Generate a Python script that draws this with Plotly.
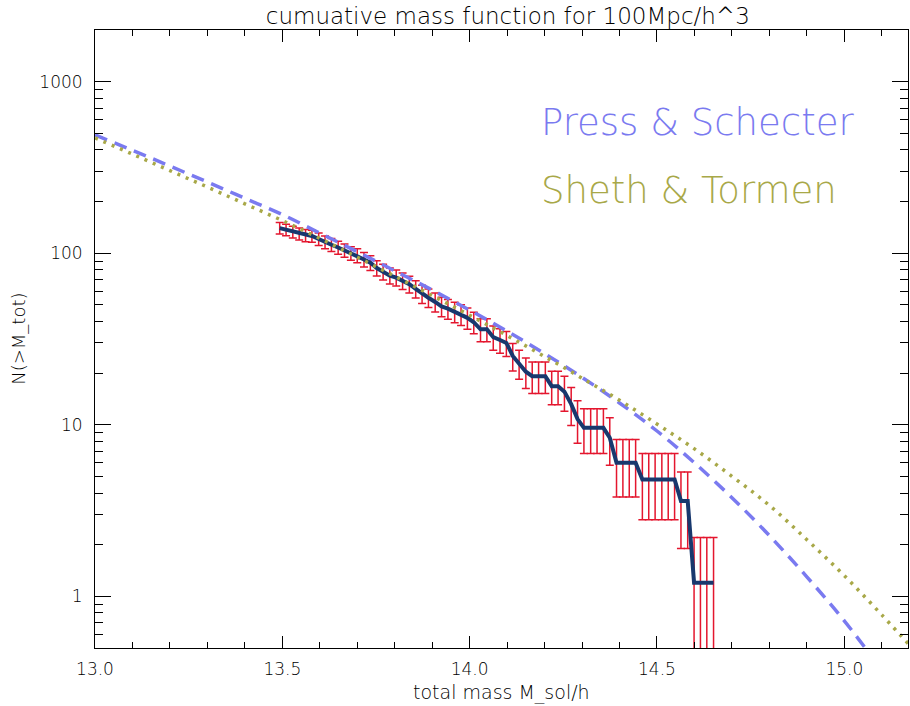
import plotly.graph_objects as go

# ---------------- data ----------------
mass = [13.493, 13.510, 13.528, 13.545, 13.562, 13.579, 13.597, 13.614, 13.631, 13.649,
        13.666, 13.683, 13.700, 13.718, 13.735, 13.752, 13.769, 13.787, 13.804, 13.821,
        13.839, 13.856, 13.873, 13.890, 13.908, 13.925, 13.942, 13.960, 13.977, 13.994,
        14.011, 14.029, 14.046, 14.063, 14.081, 14.098, 14.115, 14.132, 14.150, 14.167,
        14.184, 14.202, 14.219, 14.236, 14.253, 14.271, 14.288, 14.305, 14.323, 14.340,
        14.357, 14.374, 14.392, 14.409, 14.426, 14.443, 14.461, 14.478, 14.495, 14.513,
        14.530, 14.547, 14.564, 14.582, 14.599, 14.616, 14.633, 14.651]
n_cum = [140, 137, 133, 130, 127, 126, 121, 116, 112, 108,
         104, 100, 97, 92, 88, 82, 78, 74, 72, 69,
         66, 62, 58, 55, 52, 49, 47.5, 45.5, 44, 42,
         39.6, 36, 36, 32.4, 31.2, 30, 25.2, 22.8, 20.4, 19.2,
         19.2, 19.2, 16.8, 16.8, 15.6, 13.2, 10.8, 9.6, 9.6, 9.6,
         9.6, 8.4, 6.0, 6.0, 6.0, 6.0, 4.8, 4.8, 4.8, 4.8,
         4.8, 4.8, 3.6, 3.6, 1.2, 1.2, 1.2, 1.2]
n_err = [10.8, 10.7, 10.5, 10.4, 10.3, 10.2, 10.0, 9.8, 9.7, 9.5,
         9.3, 9.1, 9.0, 8.8, 8.6, 8.3, 8.1, 7.9, 7.7, 7.6,
         7.4, 7.2, 7.0, 6.8, 6.6, 6.4, 6.3, 6.2, 6.1, 5.9,
         5.7, 5.5, 5.5, 5.2, 5.1, 5.0, 4.6, 4.4, 4.1, 4.0,
         4.0, 4.0, 3.7, 3.7, 3.6, 3.3, 3.0, 2.8, 2.8, 2.8,
         2.8, 2.6, 2.2, 2.2, 2.2, 2.2, 2.0, 2.0, 2.0, 2.0,
         2.0, 2.0, 1.7, 1.7, 1.0, 1.0, 1.0, 1.0]

model_mass = [13.0, 13.1, 13.2, 13.3, 13.4, 13.5, 13.6, 13.7, 13.8, 13.9, 14.0, 14.1,
              14.2, 14.3, 14.4, 14.5, 14.6, 14.7, 14.8, 14.9, 15.0, 15.1, 15.2]
press_schechter = [490, 398, 322, 260, 209, 168, 131, 102, 79, 61, 46.6, 35.1,
                   26.0, 18.9, 13.4, 9.2, 6.0, 3.76, 2.26, 1.30, 0.72, 0.37, 0.18]
sheth_tormen = [470, 378, 303, 243, 194, 155, 122, 94.8, 73.5, 56.6, 43.5, 33.1,
                25.0, 18.7, 13.9, 10.1, 7.24, 5.01, 3.39, 2.14, 1.32, 0.78, 0.45]

x_ticks = [13.0, 13.5, 14.0, 14.5, 15.0]
x_tick_labels = ["13.0", "13.5", "14.0", "14.5", "15.0"]
y_ticks = [1, 10, 100, 1000]
y_tick_labels = ["1", "10", "100", "1000"]
y_minor_ticks = [0.6, 0.7, 0.8, 0.9, 2, 3, 4, 5, 6, 7, 8, 9, 20, 30, 40, 50, 60, 70, 80, 90,
                 200, 300, 400, 500, 600, 700, 800, 900, 2000]

title_text = "cumuative mass function for 100Mpc/h^3"
x_title = "total mass M_sol/h"
y_title = "N(>M_tot)"
ps_label = "Press & Schecter"
st_label = "Sheth & Tormen"

# ---------------- styles ----------------
FONT = "DejaVu Sans"
PS_COLOR = "rgb(122,122,240)"
ST_COLOR = "rgb(168,168,72)"
DATA_COLOR = "rgb(24,56,110)"
ERR_COLOR = "rgb(228,22,46)"
TXT = dict(family=FONT, color="black", weight=200)

fig = go.Figure()

fig.add_trace(go.Scatter(
    x=mass, y=n_cum, mode="lines",
    line=dict(color=DATA_COLOR, width=4),
    error_y=dict(type="data", array=n_err, visible=True,
                 color=ERR_COLOR, thickness=1.5, width=4),
    showlegend=False, hoverinfo="skip"))

fig.add_trace(go.Scatter(
    x=model_mass, y=press_schechter, mode="lines",
    line=dict(color=PS_COLOR, width=3.5, dash="13px,8px", shape="spline"),
    showlegend=False, hoverinfo="skip"))

fig.add_trace(go.Scatter(
    x=model_mass, y=sheth_tormen, mode="lines",
    line=dict(color=ST_COLOR, width=3.5, dash="3px,6px", shape="spline"),
    showlegend=False, hoverinfo="skip"))

fig.add_annotation(x=0.546, y=0.850, xref="paper", yref="paper",
                   text=ps_label, showarrow=False, xanchor="left", yanchor="middle",
                   font=dict(family=FONT, size=37, color=PS_COLOR, weight=200))
fig.add_annotation(x=0.546, y=0.740, xref="paper", yref="paper",
                   text=st_label, showarrow=False, xanchor="left", yanchor="middle",
                   font=dict(family=FONT, size=37, color=ST_COLOR, weight=200))

# axis titles as annotations (fixed positions)
fig.add_annotation(x=0.5, y=-0.072, xref="paper", yref="paper", text=x_title,
                   showarrow=False, xanchor="center", yanchor="middle",
                   font=dict(size=19, **TXT))
fig.add_annotation(x=-0.095, y=0.5, xref="paper", yref="paper", text=y_title,
                   showarrow=False, xanchor="center", yanchor="middle", textangle=-90,
                   font=dict(size=18, **TXT))

axis_common = dict(
    showline=True, linecolor="black", linewidth=1, mirror="ticks",
    ticks="inside", tickcolor="black", tickwidth=1,
    showgrid=False, zeroline=False, automargin=False,
    tickfont=dict(size=17, **TXT),
)

fig.update_xaxes(
    range=[13.0, 15.17], tickvals=x_ticks, ticktext=x_tick_labels,
    ticklen=12, ticklabelstandoff=6,
    minor=dict(ticks="inside", dtick=0.1, ticklen=6, tickcolor="black", showgrid=False),
    **axis_common)

fig.update_yaxes(
    type="log", range=[-0.301, 3.301], tickvals=y_ticks, ticktext=y_tick_labels,
    ticklen=16, ticklabelstandoff=8,
    minor=dict(ticks="inside", ticklen=8, tickcolor="black", showgrid=False,
               tickvals=y_minor_ticks),
    **axis_common)

fig.update_layout(
    width=910, height=706,
    margin=dict(l=95, r=2, t=30, b=58, autoexpand=False),
    paper_bgcolor="white", plot_bgcolor="white",
    title=dict(text=title_text, x=0.558, xanchor="center", y=0.977, yanchor="middle",
               font=dict(size=23, **TXT)),
    showlegend=False,
)

fig.write_html("out.html", config={"displayModeBar": False},
               post_script="document.body.style.margin='0';document.body.style.overflow='hidden';")
